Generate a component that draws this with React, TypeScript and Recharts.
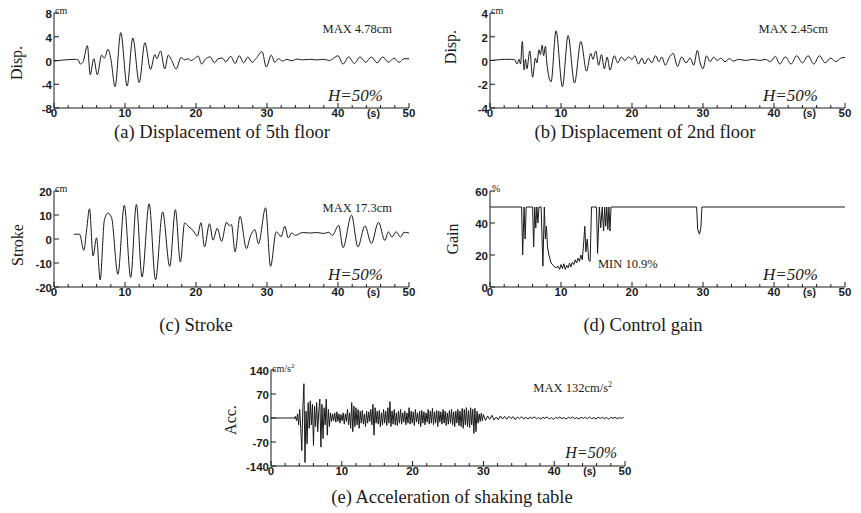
import { Line, LineChart, XAxis, YAxis } from "recharts";

// time axis (s)
const X_TICKS = [0, 2, 4, 6, 8, 10, 12, 14, 16, 18, 20, 22, 24, 26, 28, 30, 32, 34, 36, 38, 40, 42, 44, 46, 48, 50];
const X_LABELS = [0, 10, 20, 30, 40, 50];

const DISP5_TICKS = [-8, -4, 0, 4, 8];
const DISP2_TICKS = [-4, -2, 0, 2, 4];
const STROKE_TICKS = [-20, -10, 0, 10, 20];
const GAIN_TICKS = [0, 20, 40, 60];
const ACC_TICKS = [-140, -70, 0, 70, 140];

// (a) 5th floor displacement, cm  [t, v]
const DISP5: [number, number][] = [
  [0, -0.1], [1, 0.05], [2, 0.15], [3, 0.2], [3.4, 0.1], [3.7, -0.6], [4.1, -0.2], [4.7, 2.5],
  [5.1, -2.4], [5.6, 0.3], [6.1, -2.4], [6.7, 0.9], [7.1, 0.4], [7.6, 1.9], [8.0, 0.3], [8.6, -4.4],
  [9.4, 4.7], [10.3, -4.3], [11.1, 3.8], [12.0, -3.7], [12.8, 3.0], [13.6, -1.5], [14.2, 1.0],
  [14.5, 0.3], [15.0, 1.6], [15.6, -1.4], [16.1, 0.9], [16.5, 0.2], [17.2, -1.4], [17.9, 0.5],
  [18.4, 0.1], [18.9, 0.3], [19.3, 0.0], [19.8, 0.3], [20.3, 0.75], [20.8, -0.6], [21.3, 0.2],
  [22.0, 0.6], [22.6, -0.4], [23.1, 0.3], [23.7, 0.4], [24.2, -0.2], [24.9, 0.7], [25.5, -0.5],
  [26.1, 0.8], [26.7, -0.4], [27.3, 0.6], [27.9, -0.3], [28.5, 0.4], [29.3, 1.5], [29.9, -1.1],
  [30.6, 0.9], [31.1, -0.3], [31.6, 0.3], [32.2, -0.1], [32.8, 0.2], [33.5, -0.05], [34.2, 0.25],
  [35, 0.1], [36, 0.2], [37, 0.1], [38, 0.2], [38.8, 0.0], [39.4, 0.4], [40.0, 0.8], [40.7, -0.6],
  [41.5, 0.6], [42.3, -0.5], [43.1, 0.6], [43.9, -0.3], [44.7, 0.6], [45.5, -0.4], [46.3, 0.6],
  [47.1, -0.3], [47.9, 0.4], [48.6, -0.3], [49.3, 0.3], [50, 0.3],
];

// (b) 2nd floor displacement, cm
const DISP2: [number, number][] = [
  [0, 0], [1, 0.05], [2, 0.1], [3, 0.1], [3.5, 0.05], [3.8, -0.3], [4.1, 0.1], [4.3, -0.3],
  [4.55, 1.6], [4.8, -0.8], [5.0, 0.1], [5.2, -0.7], [5.6, 0.8], [6.0, -1.4], [6.4, 0.2], [6.6, -0.2],
  [6.9, 0.9], [7.1, 0.5], [7.35, 1.3], [7.55, 0.4], [7.8, 1.2], [8.0, -0.2], [8.6, -1.8], [9.3, 2.5],
  [10.2, -2.2], [11.0, 2.1], [11.9, -1.9], [12.8, 1.6], [13.6, -0.9], [14.2, 0.6], [14.5, 0.1],
  [14.9, 0.8], [15.3, -0.4], [15.7, 0.5], [16.1, -0.7], [16.5, 0.3], [16.9, -0.8], [17.5, 0.4],
  [18.0, -0.2], [18.5, 0.3], [19.0, 0.0], [19.5, 0.3], [20.0, 0.1], [20.4, 0.4], [20.9, -0.3],
  [21.4, 0.2], [21.8, -0.3], [22.3, 0.2], [22.8, -0.2], [23.3, 0.4], [23.8, -0.1], [24.2, 0.3],
  [24.7, -0.4], [25.2, 0.2], [25.8, 0.6], [26.4, -0.5], [27.0, 0.3], [27.6, -0.2], [28.2, 0.2],
  [28.7, -0.4], [29.2, 0.85], [29.6, -0.2], [30.0, -0.7], [30.5, 0.4], [31.0, -0.1], [31.5, 0.3],
  [32.0, 0.0], [32.5, 0.2], [33.1, -0.1], [33.7, 0.15], [34.3, -0.05], [35, 0.1], [36, 0.0],
  [37, 0.1], [38, 0.0], [38.8, 0.1], [39.5, -0.1], [40.2, 0.35], [40.8, -0.3], [41.6, 0.3],
  [42.4, -0.3], [43.2, 0.4], [44.0, -0.2], [44.8, 0.4], [45.6, -0.3], [46.4, 0.4], [47.2, -0.2],
  [48.0, 0.2], [48.7, -0.1], [49.4, 0.2], [50, 0.25],
];

// (c) actuator stroke, cm
const STROKE: [number, number][] = [
  [2.8, 2], [3.6, 2], [4.2, -4.7], [4.6, 4], [5.0, 12.6], [5.5, -7], [6.0, 0.5], [6.5, -17],
  [7.1, 8], [7.6, 10.8], [8.1, 9], [9.0, -14.7], [9.9, 14], [10.8, -16], [11.6, 14.4], [12.4, -15.8],
  [13.4, 14.7], [14.3, -17], [15.3, 11.3], [16.3, -11.4], [17.1, 12.2], [17.8, -9.6], [18.4, 6.7],
  [19.0, 5], [19.6, 3.5], [20.2, 1.2], [20.7, 6.8], [21.2, -3.3], [21.9, 6.4], [22.4, -0.5],
  [23.0, 4.5], [23.6, -1], [24.3, 7], [24.7, 5.5], [25.0, 6], [25.5, -5.4], [26.2, 9.4], [27.1, -4],
  [27.7, 1.5], [28.3, 3.9], [28.8, -2], [29.8, 13], [30.5, -11.4], [31.3, 3], [32.0, 1], [32.5, 5.3],
  [33.0, 0.5], [33.5, 2.5], [34.0, 1.5], [35, 2.7], [36, 2.5], [37, 2.7], [38, 2.3], [38.7, 2.8],
  [39.2, 1.5], [40.1, 5.7], [40.7, -3.6], [41.9, 9.9], [42.8, -3.3], [43.8, 5.5], [44.7, -1.9],
  [45.7, 7], [46.6, -0.6], [47.1, 3], [47.6, 0.8], [48.2, 3], [48.8, 0.8], [49.3, 2.8], [50, 2.5],
];

// (d) control gain, %
const GAIN: [number, number][] = [
  [0, 50], [4.45, 50], [4.6, 20], [4.8, 50], [4.95, 30], [5.1, 50], [6.0, 50], [6.15, 25], [6.3, 50],
  [6.45, 37], [6.6, 50], [6.75, 40], [6.9, 50], [7.2, 50], [7.45, 13], [7.65, 50], [7.8, 30],
  [7.95, 38], [8.1, 25], [8.3, 20], [8.6, 15], [9.0, 13], [9.3, 12], [9.6, 13], [9.8, 11], [10.0, 14],
  [10.2, 11.5], [10.4, 14.5], [10.6, 11], [10.8, 13.5], [11.0, 12], [11.2, 15], [11.4, 12.5],
  [11.6, 15.5], [11.8, 14], [12.0, 17], [12.2, 15], [12.4, 18], [12.6, 16], [12.8, 20], [13.0, 17],
  [13.2, 28], [13.35, 38], [13.5, 22], [13.7, 30], [13.9, 17], [14.1, 16], [14.3, 50], [15.0, 50],
  [15.15, 21], [15.4, 50], [15.6, 37], [15.8, 50], [16.0, 35], [16.15, 50], [16.3, 38], [16.45, 50],
  [16.6, 36], [16.75, 50], [16.9, 35], [17.05, 50], [29.1, 50], [29.25, 36], [29.5, 33], [29.7, 37],
  [29.85, 50], [50, 50],
];

// (e) shaking table acceleration, cm/s2
const ACC_HEAD: [number, number][] = [[0, 0], [2.85, 0]];
const ACC_MAIN_START = 3.0;
const ACC_MAIN_STEP = 0.15;
const ACC_MAIN = [
  0, 2, -3, 5, -8, 12, -20, 25, -30, -95,
  30, 100, -130, 20, -75, 45, -30, 50, -20, 40,
  -80, 35, -25, 45, -40, 20, 55, -85, 40, -60,
  30, -20, 55, -50, 25, -25, 15, -10, 12, -8,
  15, -12, 18, -10, 12, -15, 10, -8, 15, -18,
  12, -10, 25, -20, 15, -30, 45, -40, 35, -25,
  30, -20, 25, -30, 20, -15, 22, -18, 12, -25,
  20, -15, 18, -10, 25, -20, 40, -50, 30, -15,
  20, -18, 22, -25, 15, -20, 25, -15, 20, -22,
  30, -15, 48, -25, 20, -18, 25, -20, 15, -22,
  20, -15, 25, -18, 15, -12, 20, -20, 15, -15,
  30, -18, 20, -15, 18, -22, 25, -12, 15, -18,
  20, -25, 22, -15, 18, -20, 15, -12, 25, -18,
  20, -15, 28, -20, 18, -15, 22, -25, 20, -12,
  18, -18, 25, -15, 20, -22, 15, -18, 22, -15,
  25, -20, 18, -25, 20, -15, 25, -22, 20, -25,
  28, -30, 25, -20, 30, -25, 22, -28, 30, -20,
  25, -45, 28, -40, 20, -15, 12, -10, 14, -8,
  10,
];
const ACC_TAIL_START = 30.3;
const ACC_TAIL_STEP = 0.3;
const ACC_TAIL = [
  -7, 6, -4, 8, -6, 3, -5, 6, -3, 5,
  -4, 5, -2, 4, -5, 3, -2, 4, -3, 2,
  -3, 2, -1, 3, -2, 1, -3, 2, -1, 3,
  -3, 1, -4, 2, -1, 3, -2, 1, -3, 2,
  -1, 3, -2, 1, -3, 2, -1, 2, -2, 3,
  -2, 1, -3, 2, -1, 2, -2, 1, -3, 2,
  -1, 2, -2, 1, -1, 2,
];

type Pt = { t: number; v: number };
const toPts = (rows: [number, number][]): Pt[] => rows.map(([t, v]) => ({ t, v }));

const ACC_SERIES: Pt[] = [
  ...toPts(ACC_HEAD),
  ...ACC_MAIN.map((v, i) => ({ t: ACC_MAIN_START + i * ACC_MAIN_STEP, v })),
  ...ACC_TAIL.map((v, i) => ({ t: ACC_TAIL_START + i * ACC_TAIL_STEP, v })),
];

const INK = "#1a1a1a";
const SANS = '"Liberation Sans", Arial, sans-serif';
const SERIF = '"Liberation Serif", "Times New Roman", serif';
const tickText = { fontFamily: SANS, fontWeight: 700, fontSize: 11.5, fill: INK };

// inward ticks, labels drawn outside
function BottomTick(props: any) {
  const { x, y, payload } = props;
  const v = payload.value as number;
  const major = X_LABELS.includes(v);
  return (
    <g>
      <line x1={x} y1={y} x2={x} y2={y - (major ? 5 : 3)} stroke={INK} />
      {major && (
        <text x={x} y={y + 9} textAnchor="middle" {...tickText}>
          {v}
        </text>
      )}
    </g>
  );
}

function TopTick(props: any) {
  const { x, y, payload } = props;
  const major = X_LABELS.includes(payload.value);
  return <line x1={x} y1={y} x2={x} y2={y + (major ? 5 : 3)} stroke={INK} />;
}

function LeftTick(props: any) {
  const { x, y, payload } = props;
  return (
    <g>
      <line x1={x} y1={y} x2={x + 5} y2={y} stroke={INK} />
      <text x={x - 2} y={y + 1} textAnchor="end" dominantBaseline="central" {...tickText}>
        {payload.value}
      </text>
    </g>
  );
}

function RightTick(props: any) {
  const { x, y } = props;
  return <line x1={x} y1={y} x2={x - 5} y2={y} stroke={INK} />;
}

type Box = { x0: number; y0: number; x1: number; y1: number };

function Panel({
  box,
  data,
  domain,
  ticks,
  curve,
}: {
  box: Box;
  data: Pt[];
  domain: [number, number];
  ticks: number[];
  curve: "monotone" | "linear";
}) {
  const padL = 54;
  const padT = 6;
  const padR = 12;
  const padB = 18;
  const w = box.x1 - box.x0 + padL + padR;
  const h = box.y1 - box.y0 + padT + padB;
  return (
    <div style={{ position: "absolute", left: box.x0 - padL, top: box.y0 - padT }}>
      <LineChart width={w} height={h} data={data} margin={{ top: padT, right: padR, bottom: 0, left: 0 }}>
        <XAxis
          dataKey="t"
          type="number"
          domain={[0, 50]}
          ticks={X_TICKS}
          interval={0}
          height={padB}
          tickSize={0}
          tickMargin={0}
          tickLine={false}
          tick={<BottomTick />}
          axisLine={{ stroke: INK }}
          allowDataOverflow
        />
        <XAxis
          xAxisId="top"
          orientation="top"
          dataKey="t"
          type="number"
          domain={[0, 50]}
          ticks={X_TICKS}
          interval={0}
          height={0}
          tickSize={0}
          tickMargin={0}
          tickLine={false}
          tick={<TopTick />}
          axisLine={{ stroke: INK }}
        />
        <YAxis
          type="number"
          domain={domain}
          ticks={ticks}
          interval={0}
          width={padL}
          tickSize={0}
          tickMargin={0}
          tickLine={false}
          tick={<LeftTick />}
          axisLine={{ stroke: INK }}
          allowDataOverflow
        />
        <YAxis
          yAxisId="right"
          orientation="right"
          type="number"
          domain={domain}
          ticks={ticks}
          interval={0}
          width={0}
          tickSize={0}
          tickMargin={0}
          tickLine={false}
          tick={<RightTick />}
          axisLine={{ stroke: INK }}
        />
        <Line
          dataKey="v"
          type={curve}
          stroke={INK}
          strokeWidth={1}
          dot={false}
          isAnimationActive={false}
        />
      </LineChart>
    </div>
  );
}

const BOX_A: Box = { x0: 54, y0: 13, x1: 409, y1: 108 };
const BOX_B: Box = { x0: 490, y0: 13, x1: 845, y1: 108 };
const BOX_C: Box = { x0: 54, y0: 191, x1: 409, y1: 287 };
const BOX_D: Box = { x0: 490, y0: 191, x1: 845, y1: 287 };
const BOX_E: Box = { x0: 271, y0: 370, x1: 625, y1: 466 };

function YLabel({ x, y, text }: { x: number; y: number; text: string }) {
  return (
    <text
      x={x}
      y={y}
      textAnchor="middle"
      dominantBaseline="central"
      transform={`rotate(-90 ${x} ${y})`}
      fontFamily={SERIF}
      fontSize={16}
      fill={INK}
    >
      {text}
    </text>
  );
}

function Seconds({ box }: { box: Box }) {
  const x = box.x0 + (45 / 50) * (box.x1 - box.x0);
  return (
    <text x={x} y={box.y1 + 9} textAnchor="middle" {...tickText} fontSize={10.5}>
      (s)
    </text>
  );
}

function HText({ x, y, size = 17 }: { x: number; y: number; size?: number }) {
  return (
    <text x={x} y={y} textAnchor="end" fontFamily={SERIF} fontStyle="italic" fontSize={size} fill={INK}>
      H=50%
    </text>
  );
}

export default function App() {
  const note = { fontFamily: SERIF, fontSize: 12.5, fill: INK };
  const unit = { fontFamily: SERIF, fontSize: 10, fill: INK };
  const title = { fontFamily: SERIF, fontSize: 18.5, fill: INK, textAnchor: "middle" as const };
  return (
    <div
      style={{
        position: "absolute",
        left: 0,
        top: 0,
        width: 861,
        height: 513,
        background: "#fff",
        fontFamily: SERIF,
      }}
    >
      <Panel box={BOX_A} data={toPts(DISP5)} domain={[-8, 8]} ticks={DISP5_TICKS} curve="monotone" />
      <Panel box={BOX_B} data={toPts(DISP2)} domain={[-4, 4]} ticks={DISP2_TICKS} curve="monotone" />
      <Panel box={BOX_C} data={toPts(STROKE)} domain={[-20, 20]} ticks={STROKE_TICKS} curve="monotone" />
      <Panel box={BOX_D} data={toPts(GAIN)} domain={[0, 60]} ticks={GAIN_TICKS} curve="linear" />
      <Panel box={BOX_E} data={ACC_SERIES} domain={[-140, 140]} ticks={ACC_TICKS} curve="linear" />

      <svg
        width={861}
        height={513}
        style={{ position: "absolute", left: 0, top: 0, pointerEvents: "none" }}
      >
        <YLabel x={16} y={63} text="Disp." />
        <YLabel x={450} y={47} text="Disp." />
        <YLabel x={17} y={245} text="Stroke" />
        <YLabel x={452} y={239} text="Gain" />
        <YLabel x={230} y={420} text="Acc." />

        <text x={55} y={14} {...unit}>cm</text>
        <text x={491} y={14} {...unit}>cm</text>
        <text x={55} y={192} {...unit}>cm</text>
        <text x={492} y={192} {...unit}>%</text>
        <text x={272} y={372} {...unit}>
          cm/s<tspan dy={-4} fontSize={7}>2</tspan>
        </text>

        <text x={392} y={33} textAnchor="end" {...note}>MAX 4.78cm</text>
        <text x={828} y={33} textAnchor="end" {...note}>MAX 2.45cm</text>
        <text x={392} y={212} textAnchor="end" {...note}>MAX 17.3cm</text>
        <text x={598} y={268} {...note}>MIN 10.9%</text>
        <text x={612} y={392} textAnchor="end" {...note}>
          MAX 132cm/s<tspan dy={-5} fontSize={8}>2</tspan>
        </text>

        <HText x={383} y={101} />
        <HText x={818} y={101} />
        <HText x={383} y={280} />
        <HText x={818} y={280} />
        <HText x={617} y={458} size={16} />

        <Seconds box={BOX_A} />
        <Seconds box={BOX_B} />
        <Seconds box={BOX_C} />
        <Seconds box={BOX_D} />
        <Seconds box={BOX_E} />

        <text x={222} y={138} {...title}>(a) Displacement of 5th floor</text>
        <text x={645} y={138} {...title}>(b) Displacement of 2nd floor</text>
        <text x={196} y={331} {...title}>(c) Stroke</text>
        <text x={643} y={331} {...title}>(d) Control gain</text>
        <text x={452} y={503} {...title}>(e) Acceleration of shaking table</text>
      </svg>
    </div>
  );
}
